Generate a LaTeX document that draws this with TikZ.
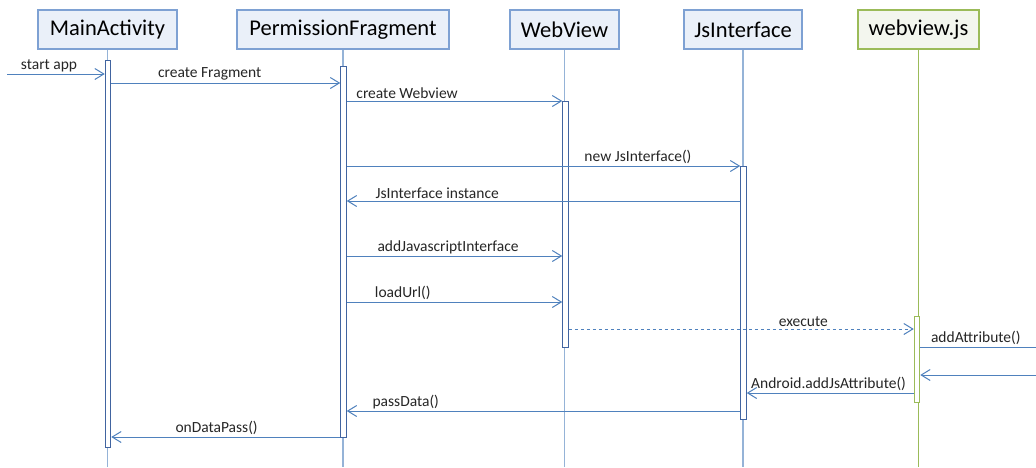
\documentclass[tikz,border=0pt]{standalone}
\usepackage{fontspec}
\setmainfont{Carlito}
\usepackage{tikz}
\usetikzlibrary{arrows.meta, positioning}
\definecolor{lifeblue}{RGB}{149, 179, 215}
\definecolor{msgblue}{RGB}{79, 129, 189}
\definecolor{barblue}{RGB}{65, 100, 160}
\definecolor{objfill}{RGB}{234, 240, 249}
\definecolor{objline}{RGB}{126, 161, 211}
\definecolor{jsgreen}{RGB}{155, 187, 89}
\definecolor{jsfill}{RGB}{243, 246, 238}

\begin{document}
\begin{tikzpicture}[
        x=1pt, y=-1pt,
        obj/.style={draw=objline, fill=objfill, line width=1.2pt,
                    minimum height=39pt, inner sep=0pt,
                    font=\fontsize{22.5}{26}\selectfont},
        life/.style={draw=lifeblue, line width=1.2pt},
        actbar/.style={draw=barblue, fill=white, line width=1pt,
                       minimum width=5.5pt, inner sep=0pt, anchor=north},
        msg/.style={draw=msgblue, line width=1pt,
                    -{Straight Barb[length=9pt, width=11pt]}},
        lbl/.style={font=\fontsize{15.5}{17}\selectfont, above=1pt,
                    inner sep=1pt, text=black!85},
      ]
        \fill[white] (0,0) rectangle (1036,467);
        \useasboundingbox (0,0) rectangle (1036,467);

        % objects
        \node[obj, minimum width=139pt] (main) at (107.5,29.5) {MainActivity};
        \node[obj, minimum width=212pt] (frag) at (343,29.5) {PermissionFragment};
        \node[obj, minimum width=109pt] (web) at (564.5,29.5) {WebView};
        \node[obj, minimum width=118pt] (jsi) at (743,29.5) {JsInterface};
        \node[obj, draw=jsgreen, fill=jsfill, minimum width=121pt] (js)
          at (918.5,29.5) {webview.js};

        % lifelines
        \draw[life] (main.south) -- (main.south |- 0,467);
        \draw[life] (frag.south) -- (frag.south |- 0,467);
        \draw[life] (web.south) -- (web.south |- 0,467);
        \draw[life] (jsi.south) -- (jsi.south |- 0,467);
        \draw[life, draw=jsgreen] (js.south) -- (js.south |- 0,467);

        % activations
        \node[actbar, minimum height=387pt] (mainBar) at (108,60) {};
        \node[actbar, minimum height=371pt] (fragBar) at (343.5,66) {};
        \node[actbar, minimum height=246pt] (webBar) at (565.5,101) {};
        \node[actbar, minimum height=253pt] (jsiBar) at (743.5,166) {};
        \node[actbar, draw=jsgreen, minimum height=86pt] (jsBar) at (917,316) {};

        \coordinate (appIn) at (7,74);
        \coordinate (attrOut) at (1036,347);
        \coordinate (attrIn) at (1036,375);

        % messages
        \draw[msg] (appIn) -- node[lbl, pos=0.43] {start app} (mainBar.west |- appIn);
        \draw[msg] (mainBar.east |- 0,83) -- node[lbl, pos=0.43] {create Fragment}
          (fragBar.west |- 0,83);
        \draw[msg] (fragBar.east |- 0,101) -- node[lbl, pos=0.28] {create Webview}
          (webBar.west |- 0,101);
        \draw[msg] (fragBar.east |- 0,166) -- node[lbl, pos=0.74] {new JsInterface()}
          (jsiBar.west |- 0,166);
        \draw[msg] (jsiBar.west |- 0,201) -- node[lbl, pos=0.77] {JsInterface instance}
          (fragBar.east |- 0,201);
        \draw[msg] (fragBar.east |- 0,256) -- node[lbl, pos=0.47] {addJavascriptInterface}
          (webBar.west |- 0,256);
        \draw[msg] (fragBar.east |- 0,302) -- node[lbl, pos=0.26] {loadUrl()}
          (webBar.west |- 0,302);
        \draw[msg, dashed] (webBar.east |- 0,329) -- node[lbl, pos=0.68] {execute}
          (jsBar.west |- 0,329);
        \draw[msg, -] (jsBar.east |- attrOut) -- node[lbl, pos=0.48] {addAttribute()}
          (attrOut);
        \draw[msg] (attrIn) -- (jsBar.east |- attrIn);
        \draw[msg] (jsBar.west |- 0,393) -- node[lbl, pos=0.51] {Android.addJsAttribute()}
          (jsiBar.east |- 0,393);
        \draw[msg] (jsiBar.west |- 0,411) -- node[lbl, pos=0.85] {passData()}
          (fragBar.east |- 0,411);
        \draw[msg] (fragBar.west |- 0,437) -- node[lbl, pos=0.54] {onDataPass()}
          (mainBar.east |- 0,437);
      \end{tikzpicture}
\end{document}
